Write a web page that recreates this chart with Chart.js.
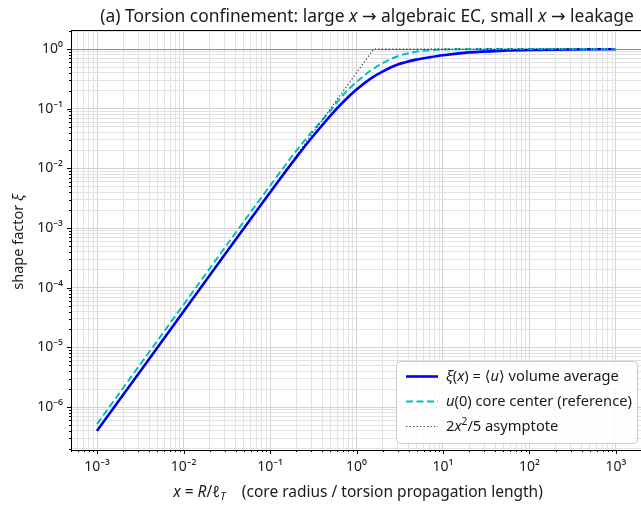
<!DOCTYPE html>
<html><head><meta charset="utf-8">
<script src="https://cdn.jsdelivr.net/npm/chart.js@4"></script>
<style>
html,body{margin:0;padding:0;overflow:hidden;background:#fff;width:641px;height:506px}
#wrap{position:relative;width:651px;height:506px}
canvas{display:block}
</style>
</head><body><div id="wrap"><canvas id="c" width="651" height="506"></canvas></div>
<script>
// ---- data ----
const X_POINTS   = [0.001, 0.003, 0.01, 0.03, 0.1, 0.2, 0.3, 0.5, 0.7, 1, 1.5, 2, 3, 5, 7, 10, 20, 50, 100, 300, 1000];
const XI_VALUES  = [4.0e-7, 3.6e-6, 4.0e-5, 3.6e-4, 3.95e-3, 0.0152, 0.032, 0.077, 0.13, 0.21, 0.33, 0.42, 0.55, 0.67, 0.73, 0.79, 0.88, 0.94, 0.965, 0.985, 0.995];
const U0_VALUES  = [5.2e-7, 4.7e-6, 5.2e-5, 4.7e-4, 5.1e-3, 0.0195, 0.040, 0.093, 0.17, 0.28, 0.45, 0.58, 0.76, 0.91, 0.96, 0.985, 0.997, 1.0, 1.0, 1.0, 1.0];
const ASYM_X      = [0.001, 1.58, 1000];
const ASYM_VALUES = [4.0e-7, 1.0, 1.0];

const X_TICK_VALUES = [1e-3, 1e-2, 1e-1, 1e0, 1e1, 1e2, 1e3];
const X_TICK_LABELS = ['10\u207B\u00B3','10\u207B\u00B2','10\u207B\u00B9','10\u2070','10\u00B9','10\u00B2','10\u00B3'];
const Y_TICK_VALUES = [1e-6, 1e-5, 1e-4, 1e-3, 1e-2, 1e-1, 1e0];
const Y_TICK_LABELS = ['10\u207B\u2076','10\u207B\u2075','10\u207B\u2074','10\u207B\u00B3','10\u207B\u00B2','10\u207B\u00B9','10\u2070'];

const X_RANGE = [5.0e-4, 2.0e3];
const Y_RANGE = [1.91e-7, 2.09];

const FONT = '"Noto Sans", "DejaVu Sans", sans-serif';
const TEXT_COLOR = '#1a1a1a';

function pts(xs, ys){ return xs.map((x,i)=>({x:x, y:ys[i]})); }

function logTicks(min, max){
  const out = [];
  const e0 = Math.floor(Math.log10(min)), e1 = Math.ceil(Math.log10(max));
  for (let e=e0; e<=e1; e++){
    for (let m=1; m<=9; m++){
      const v = m*Math.pow(10,e);
      if (v >= min*0.9999 && v <= max*1.0001) out.push({value:v, major:m===1});
    }
  }
  return out;
}
function labelFor(v, vals, labels){
  for (let i=0;i<vals.length;i++){ if (Math.abs(v-vals[i]) <= vals[i]*1e-6) return labels[i]; }
  return '';
}

function drawRich(ctx, segs, x, y, align, base){
  const items = segs.map(s=>{
    const size = (s.sup||s.sub) ? base*0.7 : base;
    const font = (s.i?'italic ':'') + size + 'px ' + FONT;
    ctx.font = font;
    return {t:s.t, font, w:ctx.measureText(s.t).width, dy: s.sup ? -base*0.38 : (s.sub ? base*0.22 : 0)};
  });
  const total = items.reduce((a,b)=>a+b.w,0);
  let cx = align==='center' ? x-total/2 : (align==='right' ? x-total : x);
  ctx.textAlign='left'; ctx.textBaseline='alphabetic';
  items.forEach(it=>{ ctx.font=it.font; ctx.fillText(it.t, cx, y+it.dy); cx+=it.w; });
  return total;
}

const decor = {
  id:'decor',
  beforeDatasetsDraw(chart){
    const ctx = chart.ctx, a = chart.chartArea, ys = chart.scales.y;
    const y1 = Math.round(ys.getPixelForValue(1)) + 0.5;
    ctx.save();
    ctx.strokeStyle = '#8c8c8c'; ctx.lineWidth = 1;
    ctx.beginPath(); ctx.moveTo(a.left, y1); ctx.lineTo(a.right, y1); ctx.stroke();
    ctx.restore();
  },
  afterDatasetsDraw(chart){
    const ctx = chart.ctx, a = chart.chartArea;
    const xs = chart.scales.x, ys = chart.scales.y;
    ctx.save();
    // spines
    ctx.strokeStyle = '#000'; ctx.lineWidth = 1;
    ctx.strokeRect(Math.round(a.left)+0.5, Math.round(a.top)+0.5, Math.round(a.right-a.left), Math.round(a.bottom-a.top));
    // tick marks
    ctx.beginPath();
    xs.ticks.forEach(t=>{
      const px = Math.round(xs.getPixelForValue(t.value))+0.5;
      const L = t.major ? 4 : 2;
      ctx.moveTo(px, a.bottom); ctx.lineTo(px, a.bottom+L);
    });
    ys.ticks.forEach(t=>{
      const py = Math.round(ys.getPixelForValue(t.value))+0.5;
      const L = t.major ? 4 : 2;
      ctx.moveTo(a.left, py); ctx.lineTo(a.left-L, py);
    });
    ctx.stroke();

    // legend
    const bx = 396, by = 361, bw = 241, bh = 82, r = 4;
    ctx.fillStyle = 'rgba(255,255,255,0.85)';
    ctx.strokeStyle = '#cccccc'; ctx.lineWidth = 1;
    ctx.beginPath();
    ctx.moveTo(bx+r+0.5, by+0.5);
    ctx.arcTo(bx+bw+0.5, by+0.5, bx+bw+0.5, by+bh+0.5, r);
    ctx.arcTo(bx+bw+0.5, by+bh+0.5, bx+0.5, by+bh+0.5, r);
    ctx.arcTo(bx+0.5, by+bh+0.5, bx+0.5, by+0.5, r);
    ctx.arcTo(bx+0.5, by+0.5, bx+bw+0.5, by+0.5, r);
    ctx.closePath(); ctx.fill(); ctx.stroke();

    const rows = [376, 401, 426];
    const ds = chart.data.datasets;
    rows.forEach((ry,i)=>{
      const d = ds[i];
      ctx.save();
      ctx.strokeStyle = d.borderColor; ctx.lineWidth = d.borderWidth;
      ctx.setLineDash(d.borderDash || []);
      ctx.beginPath(); ctx.moveTo(406, ry+0.5); ctx.lineTo(438, ry+0.5); ctx.stroke();
      ctx.restore();
    });
    ctx.fillStyle = TEXT_COLOR;
    const LF = 14.7;
    drawRich(ctx, [{t:'\u03BE',i:1},{t:'('},{t:'x',i:1},{t:') = \u27E8'},{t:'u',i:1},{t:'\u27E9 volume average'}], 446, rows[0]+5, 'left', LF);
    drawRich(ctx, [{t:'u',i:1},{t:'(0) core center (reference)'}], 446, rows[1]+5, 'left', LF);
    drawRich(ctx, [{t:'2'},{t:'x',i:1},{t:'2',sup:1},{t:'/5 asymptote'}], 446, rows[2]+5, 'left', LF);

    // title
    drawRich(ctx, [{t:'(a) Torsion confinement: large '},{t:'x',i:1},{t:' \u2192 algebraic EC, small '},{t:'x',i:1},{t:' \u2192 leakage'}], 367, 22, 'center', 17.4);
    // x axis title
    drawRich(ctx, [{t:'x',i:1},{t:' = '},{t:'R',i:1},{t:'/'},{t:'\u2113',i:1},{t:'T',i:1,sub:1},{t:'    (core radius / torsion propagation length)'}], 358, 497, 'center', 15.5);
    // y axis title
    ctx.save();
    ctx.translate(23, 242); ctx.rotate(-Math.PI/2);
    drawRich(ctx, [{t:'shape factor '},{t:'\u03BE',i:1}], 0, 0, 'center', 14.5);
    ctx.restore();
    ctx.restore();
  }
};

const gridColor = c => (c.tick && c.tick.major) ? '#d2d2d2' : '#e2e2e2';

new Chart(document.getElementById('c'), {
  type:'line',
  data:{ datasets:[
    {label:'\u03BE(x) = \u27E8u\u27E9 volume average', data:pts(X_POINTS, XI_VALUES), borderColor:'#0000ff', borderWidth:2.6, pointRadius:0, cubicInterpolationMode:'monotone', fill:false, order:3},
    {label:'u(0) core center (reference)', data:pts(X_POINTS, U0_VALUES), borderColor:'#00bfbf', borderWidth:2, borderDash:[7,3.5], pointRadius:0, cubicInterpolationMode:'monotone', fill:false, order:2},
    {label:'2x\u00B2/5 asymptote', data:pts(ASYM_X, ASYM_VALUES), borderColor:'rgba(0,0,0,0.75)', borderWidth:1.2, borderDash:[1.3,2.2], pointRadius:0, tension:0, fill:false, order:1}
  ]},
  options:{
    responsive:false, animation:false, devicePixelRatio:1,
    layout:{padding:{top:30, left:0, right:6, bottom:0}},
    plugins:{legend:{display:false}, title:{display:false}, tooltip:{enabled:false}},
    scales:{
      x:{type:'logarithmic', min:X_RANGE[0], max:X_RANGE[1],
         afterBuildTicks: s => { s.ticks = logTicks(X_RANGE[0], X_RANGE[1]); },
         afterFit: s => { s.height = 56; },
         border:{display:false},
         grid:{color:gridColor, lineWidth:1, drawTicks:false},
         ticks:{autoSkip:false, maxRotation:0, padding:9, color:TEXT_COLOR, font:{family:FONT, size:14},
                callback:(v)=>labelFor(v, X_TICK_VALUES, X_TICK_LABELS)}},
      y:{type:'logarithmic', min:Y_RANGE[0], max:Y_RANGE[1],
         afterBuildTicks: s => { s.ticks = logTicks(Y_RANGE[0], Y_RANGE[1]); },
         afterFit: s => { s.width = 71; },
         border:{display:false},
         grid:{color:gridColor, lineWidth:1, drawTicks:false},
         ticks:{autoSkip:false, padding:8, color:TEXT_COLOR, font:{family:FONT, size:14},
                callback:(v)=>labelFor(v, Y_TICK_VALUES, Y_TICK_LABELS)}}
    }
  },
  plugins:[decor]
});
</script>
</body></html>
